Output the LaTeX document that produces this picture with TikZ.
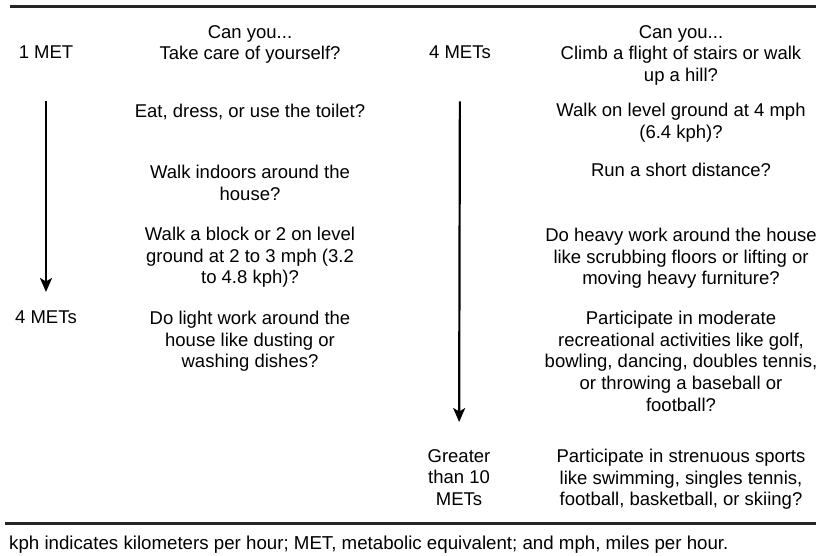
\documentclass[tikz,border=0pt]{standalone}
\usepackage{fontspec}
\setmainfont{Liberation Sans}
\usetikzlibrary{positioning, arrows.meta}
\tikzset{
  x=1pt, y=-1pt,
  txt/.style={align=center, anchor=north, inner sep=0pt,
    font=\fontsize{18.5}{21.6}\selectfont},
  flow/.style={-{Stealth[length=14pt, width=12pt, inset=3.5pt]},
    line width=2.2pt, shorten <=42pt},
  rule/.style={line width=3pt, black!85}
}

\begin{document}
\begin{tikzpicture}
    \useasboundingbox (0,0) rectangle (816,555);

    \node[txt] (ma0) at (46,46)  {1 MET};
    \node[txt] (ma1) at (46,311) {4 METs};
    \node[txt] (mb0) at (460,46) {4 METs};
    \node[txt] (mb1) at (459,449) {Greater\\than 10\\METs};

    \node[txt] (l0) at (250,25)  {Can you...\\Take care of yourself?};
    \node[txt] (l1) at (250,104) {Eat, dress, or use the toilet?};
    \node[txt] (l2) at (250,165) {Walk indoors around the\\house?};
    \node[txt] (l3) at (250,227) {Walk a block or 2 on level\\ground at 2 to 3 mph (3.2\\to 4.8 kph)?};
    \node[txt] (l4) at (250,311) {Do light work around the\\house like dusting or\\washing dishes?};

    \node[txt] (r0) at (681,25)  {Can you...\\Climb a flight of stairs or walk\\up a hill?};
    \node[txt] (r1) at (681,103) {Walk on level ground at 4 mph\\(6.4 kph)?};
    \node[txt] (r2) at (681,163) {Run a short distance?};
    \node[txt] (r3) at (681,228) {Do heavy work around the house\\like scrubbing floors or lifting or\\moving heavy furniture?};
    \node[txt] (r4) at (681,311) {Participate in moderate\\recreational activities like golf,\\bowling, dancing, doubles tennis,\\or throwing a baseball or\\football?};
    \node[txt] (r5) at (681,449) {Participate in strenuous sports\\like swimming, singles tennis,\\football, basketball, or skiing?};

    \draw[flow, shorten >=19pt] (ma0) -- (ma1);
    \draw[flow, shorten >=27pt] (mb0) -- (mb1);

    \draw[rule] (10,6) -- (816,6);
    \draw[rule] (5,523) -- (816,523);

    \node[anchor=base west, inner sep=0pt, font=\fontsize{18.7}{21.6}\selectfont]
      (note) at (9,549.5) {kph indicates kilometers per hour; MET, metabolic equivalent; and mph, miles per hour.};
  \end{tikzpicture}
\end{document}
